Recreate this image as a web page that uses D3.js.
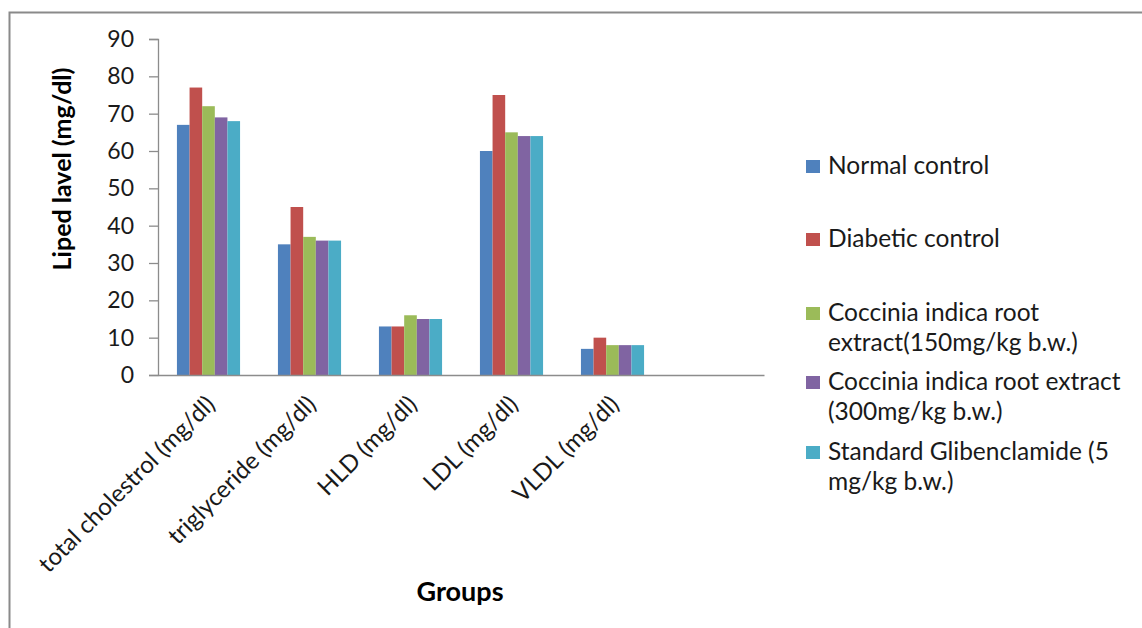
<!DOCTYPE html>
<html>
<head>
<meta charset="utf-8">
<script src="https://cdn.jsdelivr.net/npm/d3@7"></script>
<style>
  html, body { margin: 0; padding: 0; background: #fff; }
  svg { display: block; font-family: Lato, "Open Sans", sans-serif; }
</style>
</head>
<body>
<svg id="chart" width="1142" height="628"></svg>
<script>
// Lipid parameters measured per treatment group
const categories = ["total cholestrol (mg/dl)", "triglyceride (mg/dl)", "HLD (mg/dl)", "LDL (mg/dl)", "VLDL (mg/dl)"];
const seriesNames = [
  ["Normal control"],
  ["Diabetic control"],
  ["Coccinia indica root", "extract(150mg/kg b.w.)"],
  ["Coccinia indica root extract", "(300mg/kg b.w.)"],
  ["Standard Glibenclamide (5", "mg/kg b.w.)"]
];
const normalControl   = [67, 35, 13, 60, 7];
const diabeticControl = [77, 45, 13, 75, 10];
const extract150      = [72, 37, 16, 65, 8];
const extract300      = [69, 36, 15, 64, 8];
const glibenclamide   = [68, 36, 15, 64, 8];
const yTicks = [0, 10, 20, 30, 40, 50, 60, 70, 80, 90];
const colors = ["#4F81BD", "#C0504D", "#9BBB59", "#8064A2", "#4BACC6"];

const seriesValues = [normalControl, diabeticControl, extract150, extract300, glibenclamide];

const svg = d3.select("#chart");
const plot = { left: 158, right: 764, top: 39, bottom: 375 };

// outer chart frame
svg.append("rect")
  .attr("x", 9.5).attr("y", 12.5)
  .attr("width", 1200).attr("height", 700)
  .attr("fill", "none").attr("stroke", "#8a8a8a").attr("stroke-width", 2);

// six category slots; the last one is left empty
const slots = d3.range(categories.length + 1);
const x = d3.scaleBand().domain(slots).range([plot.left, plot.right])
  .paddingInner(0.375).paddingOuter(0.1875);
const xs = d3.scaleBand().domain(d3.range(seriesValues.length)).range([0, x.bandwidth()]);
const y = d3.scaleLinear().domain([0, 90]).range([plot.bottom, plot.top]);

// bars
const groups = svg.append("g").selectAll("g")
  .data(categories)
  .join("g")
  .attr("transform", (d, i) => `translate(${x(i)},0)`);

groups.selectAll("rect")
  .data((d, i) => seriesValues.map((s, k) => ({ k, v: s[i] })))
  .join("rect")
  .attr("x", d => xs(d.k))
  .attr("width", xs.bandwidth())
  .attr("y", d => y(d.v))
  .attr("height", d => y(0) - y(d.v))
  .attr("fill", d => colors[d.k]);

// y axis
const yAxis = svg.append("g")
  .attr("transform", `translate(${plot.left},0)`)
  .call(d3.axisLeft(y).tickValues(yTicks).tickSize(9).tickPadding(15));
yAxis.select(".domain").attr("stroke", "#8c8c8c").attr("stroke-width", 1.3);
yAxis.selectAll(".tick line").attr("stroke", "#8c8c8c").attr("stroke-width", 1.3);
yAxis.selectAll(".tick text").attr("font-size", 23).attr("fill", "#1a1a1a")
  .attr("font-family", "Lato, sans-serif");

// x axis baseline
const xAxis = svg.append("g")
  .attr("transform", `translate(0,${plot.bottom})`)
  .call(d3.axisBottom(x).tickSize(0).tickFormat(""));
xAxis.select(".domain").attr("stroke", "#8c8c8c").attr("stroke-width", 1.3);

// rotated category labels
svg.append("g").selectAll("text")
  .data(categories)
  .join("text")
  .attr("transform", (d, i) => `translate(${x(i) + x.bandwidth() / 2 + 8},${plot.bottom + 31}) rotate(-45)`)
  .attr("text-anchor", "end")
  .attr("font-size", 24)
  .attr("fill", "#1a1a1a")
  .text(d => d);

// axis titles
svg.append("text")
  .attr("transform", "translate(71,169) rotate(-90)")
  .attr("text-anchor", "middle")
  .attr("font-size", 25).attr("font-weight", "bold")
  .attr("fill", "#000")
  .text("Liped lavel (mg/dl)");

svg.append("text")
  .attr("x", 460).attr("y", 601)
  .attr("text-anchor", "middle")
  .attr("font-size", 27).attr("font-weight", "bold")
  .attr("fill", "#000")
  .text("Groups");

// legend
const legendTop = [160, 233, 307, 376, 446];
const legend = svg.append("g").selectAll("g")
  .data(seriesNames)
  .join("g")
  .attr("transform", (d, i) => `translate(806,${legendTop[i]})`);
legend.append("rect")
  .attr("width", 14).attr("height", 13)
  .attr("fill", (d, i) => colors[i]);
legend.append("text")
  .attr("x", 22).attr("y", 14)
  .attr("font-size", 24.5)
  .attr("fill", "#1a1a1a")
  .selectAll("tspan")
  .data(d => d)
  .join("tspan")
  .attr("x", 22)
  .attr("dy", (d, j) => j === 0 ? 0 : 29.5)
  .text(d => d);
</script>
</body>
</html>
